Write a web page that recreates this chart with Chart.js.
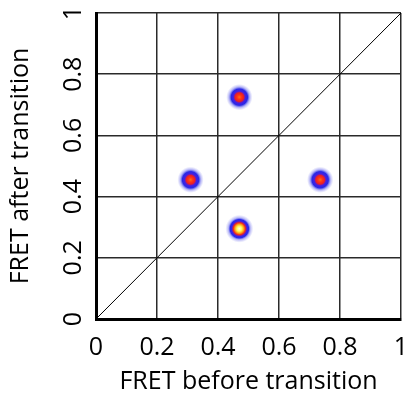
<!DOCTYPE html>
<html>
	<head>
		<title>FRET transition density</title>
		<script src="https://cdn.jsdelivr.net/npm/chart.js@4.4.0/dist/chart.umd.min.js"></script>
		<style>
			body { margin: 0; background: #fff; }
			#wrap { width: 406px; height: 397px; }
		</style>
	</head>
	<body>
		<div id="wrap"><canvas id="myChart" width="406" height="397"></canvas></div>
		<script>
			// dane
			const fretBefore = [0.47, 0.31, 0.735, 0.47];
			const fretAfter = [0.725, 0.455, 0.455, 0.295];
			const peakHeight = [0.6, 0.6, 0.6, 1.0];
			const tickLabels = ['0', '0.2', '0.4', '0.6', '0.8', '1'];
			const tickValues = [0, 0.2, 0.4, 0.6, 0.8, 1];

			const fontName = 'Open Sans';
			const fontSize = 25;

			// rysowanie plam (gęstość przejść)
			const blobs = {
				id: 'blobs',
				afterDatasetsDraw(chart) {
					const ctx = chart.ctx;
					const xs = chart.scales.x, ys = chart.scales.y;
					ctx.save();
					ctx.beginPath();
					ctx.rect(chart.chartArea.left, chart.chartArea.top, chart.chartArea.width, chart.chartArea.height);
					ctx.clip();
					for (let i = 0; i < fretBefore.length; i++) {
						const px = xs.getPixelForValue(fretBefore[i]);
						const py = ys.getPixelForValue(fretAfter[i]);
						const h = peakHeight[i];
						const r = 12 + 2 * h;
						const g = ctx.createRadialGradient(px, py, 0, px, py, r);
						if (h > 0.8) {
							g.addColorStop(0, 'rgb(255,255,235)');
							g.addColorStop(0.18, 'rgb(255,250,90)');
							g.addColorStop(0.32, 'rgb(255,160,20)');
							g.addColorStop(0.43, 'rgb(240,40,30)');
							g.addColorStop(0.55, 'rgb(60,30,230)');
							g.addColorStop(0.66, 'rgb(40,40,235)');
						} else {
							g.addColorStop(0, 'rgb(255,110,20)');
							g.addColorStop(0.18, 'rgb(255,50,20)');
							g.addColorStop(0.33, 'rgb(230,30,40)');
							g.addColorStop(0.45, 'rgb(70,30,225)');
							g.addColorStop(0.62, 'rgb(40,40,230)');
						}
						g.addColorStop(0.78, 'rgba(90,90,235,0.45)');
						g.addColorStop(1, 'rgba(140,140,240,0)');
						ctx.fillStyle = g;
						ctx.beginPath();
						ctx.arc(px, py, r, 0, Math.PI * 2);
						ctx.fill();
					}
					ctx.restore();
				}
			};

			const axisCommon = {
				type: 'linear',
				min: 0,
				max: 1,
				afterBuildTicks: s => { s.ticks = tickValues.map(v => ({ value: v })); },
				grid: { color: '#2a2a2a', lineWidth: 1.5, drawTicks: false },
				border: { color: '#000', width: 3 }
			};

			var chart = new Chart(document.getElementById('myChart').getContext('2d'), {
				type: 'scatter',
				plugins: [blobs],
				data: {
					datasets: [{
						type: 'line',
						data: [{ x: 0, y: 0 }, { x: 1, y: 1 }],
						borderColor: '#000',
						borderWidth: 1,
						pointRadius: 0,
						fill: false
					}, {
						data: fretBefore.map((v, i) => ({ x: v, y: fretAfter[i] })),
						pointRadius: 0
					}]
				},
				options: {
					responsive: false,
					animation: false,
					layout: { padding: { left: 0, right: 5, top: 13, bottom: 0 } },
					plugins: { legend: { display: false }, tooltip: { enabled: false } },
					scales: {
						x: Object.assign({}, axisCommon, {
							ticks: {
								callback: (v, i) => tickLabels[i],
								font: { family: fontName, size: fontSize },
								color: '#000',
								padding: 14,
								maxRotation: 0
							},
							title: {
								display: true,
								text: 'FRET before transition',
								font: { family: fontName, size: fontSize },
								color: '#000',
								padding: { top: 0, bottom: 0 }
							},
							afterFit: s => { s.height = 78; s.paddingLeft = 0; s.paddingRight = 0; }
						}),
						y: Object.assign({}, axisCommon, {
							ticks: {
								callback: (v, i) => tickLabels[i],
								font: { family: fontName, size: fontSize },
								color: '#000',
								padding: 5,
								crossAlign: 'center',
								minRotation: 90,
								maxRotation: 90
							},
							title: {
								display: true,
								text: 'FRET after transition',
								font: { family: fontName, size: fontSize },
								color: '#000',
								padding: { top: 6, bottom: 0 }
							},
							afterFit: s => { s.width = 96; s.paddingTop = 0; s.paddingBottom = 0; }
						})
					}
				}
			});
		</script>
	</body>
</html>
